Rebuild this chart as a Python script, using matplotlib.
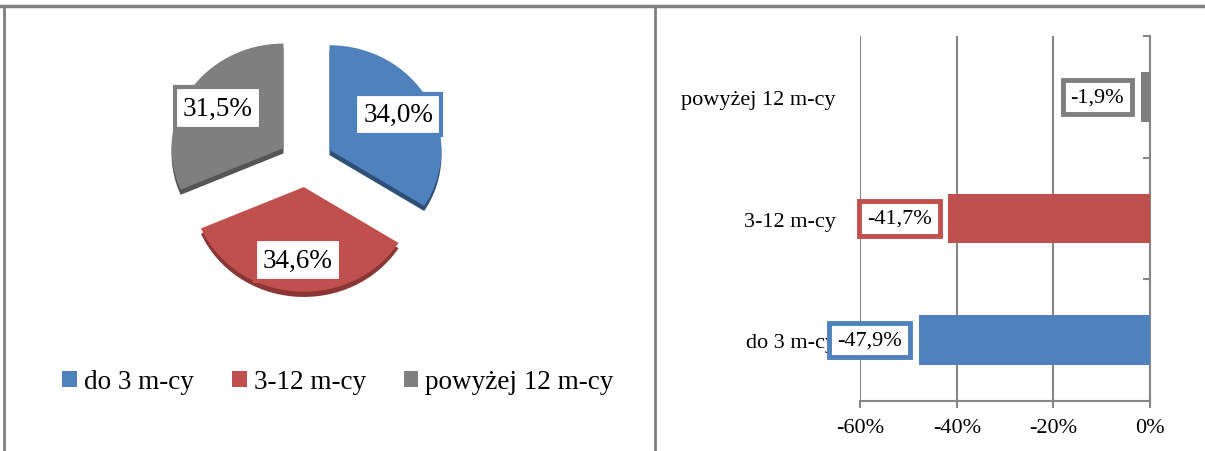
import matplotlib
matplotlib.use("Agg")
import matplotlib.pyplot as plt
from matplotlib.lines import Line2D

plt.rcParams["font.family"] = ["Liberation Serif", "DejaVu Serif"]

# dane
categories = ["do 3 m-cy", "3-12 m-cy", "powyżej 12 m-cy"]
share = [34.0, 34.6, 31.5]          # struktura (%)
change = [-47.9, -41.7, -1.9]       # zmiana (%)

colors = ["#4F81BD", "#C0504D", "#7F7F7F"]
dark = ["#2E4F78", "#8A3634", "#555555"]


def pl(v):
    return f"{v:.1f}%".replace(".", ",")


fig = plt.figure(figsize=(12.05, 4.52), dpi=100)

# --- wykres kołowy ---
ax1 = fig.add_axes([0.1145, 0.292, 0.2788, 0.6947])
explode = [0.24, 0.24, 0.24]
# cień / bok 3D
ax1.pie(share, colors=dark, startangle=90, counterclock=False,
        explode=explode, center=(0, -0.05))
wedges, texts = ax1.pie(share, colors=colors, startangle=90, counterclock=False,
                        explode=explode, labels=[pl(v) for v in share],
                        labeldistance=0.7)
for t, c in zip(texts, colors):
    t.set_ha("center")
    t.set_va("center")
    t.set_fontsize(19.5)
    t.set_bbox(dict(boxstyle="square,pad=0.3", fc="white", ec=c, lw=3))
ax1.set_aspect("auto")
ax1.set_xlim(-1.5, 1.5)
ax1.set_ylim(-1.5, 1.5)

fig.legend(wedges, categories, loc="center", bbox_to_anchor=(0.2805, 0.1527),
           ncol=3, frameon=False, fontsize=19.5, handlelength=0.55,
           handleheight=0.55, handletextpad=0.25, columnspacing=1.4)

# --- wykres słupkowy ---
ax2 = fig.add_axes([0.7137, 0.1106, 0.2407, 0.8075])
ypos = range(len(categories))
ax2.barh(ypos, [v / 100 for v in change], height=0.41, color=colors, zorder=3)
ax2.set_xlim(-0.6, 0)
ax2.set_ylim(-0.5, 2.5)
ax2.set_xticks([-0.6, -0.4, -0.2, 0])
ax2.set_xticklabels(["-60%", "-40%", "-20%", "0%"], fontsize=16)
ax2.set_yticks(list(ypos))
ax2.set_yticklabels(categories, fontsize=16)
ax2.set_yticks([0.5, 1.5, 2.5], minor=True)
ax2.tick_params(axis="y", which="major", left=False, right=False, pad=14)
ax2.tick_params(axis="y", which="minor", left=False, right=True,
                direction="in", length=5, color="#868686", width=1.5)
ax2.tick_params(axis="x", direction="out", length=5, color="#868686",
                width=1.5, pad=7)
ax2.grid(axis="x", color="#868686", lw=1.5, zorder=0)
for s in ["left", "top"]:
    ax2.spines[s].set_visible(False)
for s in ["right", "bottom"]:
    ax2.spines[s].set_color("#868686")
    ax2.spines[s].set_linewidth(1.5)

for i, v in enumerate(change):
    ax2.annotate(pl(v), xy=(v / 100, i), xytext=(-12, 0),
                 textcoords="offset points", ha="right", va="center",
                 fontsize=16, zorder=5,
                 bbox=dict(boxstyle="square,pad=0.35", fc="white",
                           ec=colors[i], lw=3.5))

# ramki
lc = "#7F7F7F"
fig.add_artist(Line2D([0, 1], [0.9845, 0.9845], color=lc, lw=2.5))
fig.add_artist(Line2D([4 / 1205, 4 / 1205], [0, 0.9845], color=lc, lw=2))
fig.add_artist(Line2D([655 / 1205, 655 / 1205], [0, 0.9845], color=lc, lw=2))

fig.savefig("out.png", dpi=100)
